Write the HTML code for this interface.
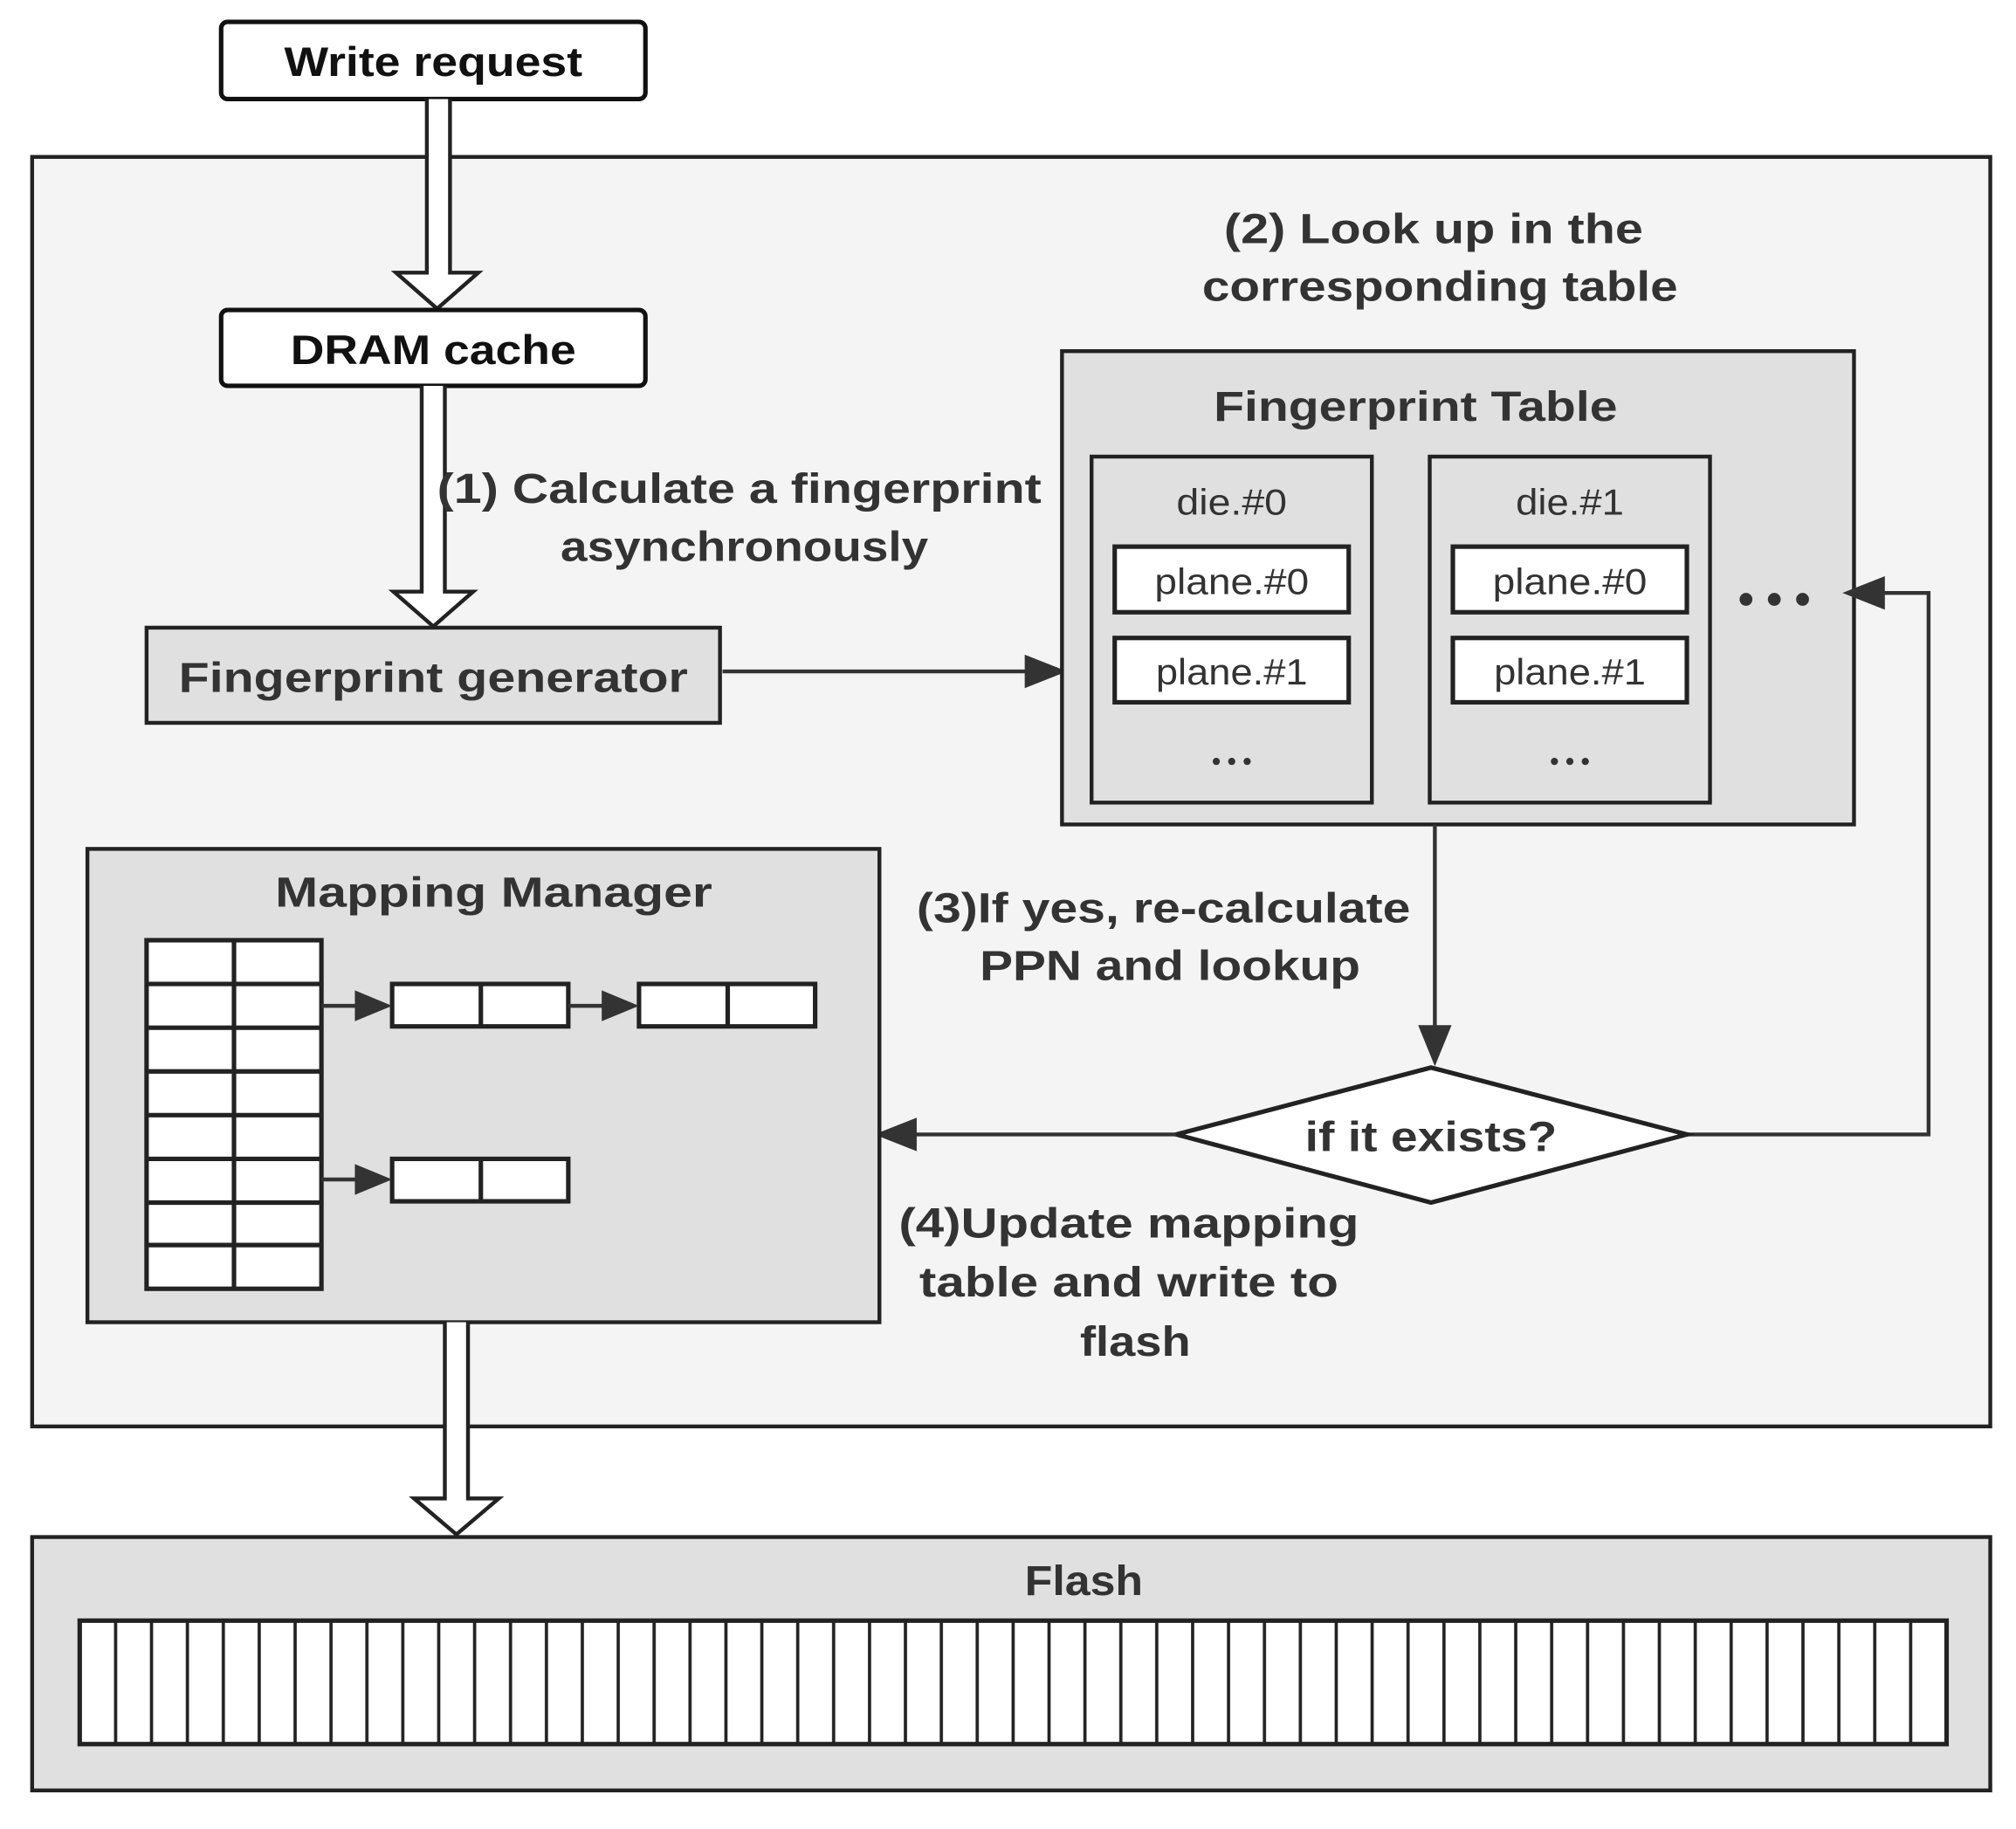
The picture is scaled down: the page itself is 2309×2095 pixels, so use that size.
<!DOCTYPE html>
<html><head><meta charset="utf-8"><style>
html,body{margin:0;padding:0;background:#fff;}
svg{display:block;}
text{font-family:"Liberation Sans",sans-serif;fill:#333;}
.b{font-weight:bold;font-size:33px;}
.n{font-size:28px;}
</style></head><body>
<svg width="2309" height="2095" viewBox="0 0 1568 1422" preserveAspectRatio="none" xmlns="http://www.w3.org/2000/svg">
<defs>
<pattern id="stripes" x="62" y="0" width="27.923" height="10" patternUnits="userSpaceOnUse">
<rect x="0" y="0" width="27.923" height="10" fill="#fff"/>
<rect x="-1.25" y="0" width="2.5" height="10" fill="#222"/>
<rect x="26.67" y="0" width="2.5" height="10" fill="#222"/>
</pattern>
</defs>
<rect x="25" y="122" width="1523" height="987" fill="#f4f4f4" stroke="#222" stroke-width="3"/>
<rect x="172" y="17" width="330" height="60" rx="5" fill="#fff" stroke="#111" stroke-width="3.5"/>
<text x="337" y="59" text-anchor="middle" font-size="32" font-weight="bold" style="fill:#111" textLength="232" lengthAdjust="spacingAndGlyphs">Write request</text>
<path d="M332,77 L332,212 L308,212 L340,240 L372,212 L350,212 L350,77" fill="#fff" stroke="#222" stroke-width="3"/>
<rect x="172" y="241" width="330" height="59" rx="5" fill="#fff" stroke="#111" stroke-width="3.5"/>
<text x="337" y="283" text-anchor="middle" font-size="32" font-weight="bold" style="fill:#111" textLength="222" lengthAdjust="spacingAndGlyphs">DRAM cache</text>
<path d="M328,300 L328,460 L306,460 L337,487 L368,460 L346,460 L346,300" fill="#fff" stroke="#222" stroke-width="3"/>
<text x="1115" y="189" text-anchor="middle" class="b" textLength="326" lengthAdjust="spacingAndGlyphs">(2) Look up in the</text>
<text x="1120" y="234" text-anchor="middle" class="b" textLength="370" lengthAdjust="spacingAndGlyphs">corresponding table</text>
<text x="575" y="391" text-anchor="middle" class="b" textLength="470" lengthAdjust="spacingAndGlyphs">(1) Calculate a fingerprint</text>
<text x="579" y="436" text-anchor="middle" class="b" textLength="286" lengthAdjust="spacingAndGlyphs">asynchronously</text>
<rect x="114" y="488" width="446" height="74" fill="#e0e0e0" stroke="#222" stroke-width="3"/>
<text x="337" y="538" text-anchor="middle" class="b" textLength="396" lengthAdjust="spacingAndGlyphs">Fingerprint generator</text>
<line x1="562" y1="522" x2="800" y2="522" stroke="#333" stroke-width="3"/>
<polygon points="830,522 797,509 797,535" fill="#333"/>
<rect x="826" y="273" width="616" height="368" fill="#e0e0e0" stroke="#222" stroke-width="3"/>
<text x="1101" y="327" text-anchor="middle" class="b" textLength="314" lengthAdjust="spacingAndGlyphs">Fingerprint Table</text>
<g>
<rect x="849" y="355" width="218" height="269" fill="#e0e0e0" stroke="#222" stroke-width="3"/>
<text x="958" y="400" text-anchor="middle" class="n" textLength="86" lengthAdjust="spacingAndGlyphs">die.#0</text>
<rect x="867" y="425" width="182" height="51" fill="#fff" stroke="#222" stroke-width="3.5"/>
<text x="958" y="462" text-anchor="middle" class="n" textLength="120" lengthAdjust="spacingAndGlyphs">plane.#0</text>
<rect x="867" y="496" width="182" height="50" fill="#fff" stroke="#222" stroke-width="3.5"/>
<text x="958" y="532" text-anchor="middle" class="n" textLength="118" lengthAdjust="spacingAndGlyphs">plane.#1</text>
<circle cx="946" cy="592" r="2.8" fill="#333"/><circle cx="958" cy="592" r="2.8" fill="#333"/><circle cx="970" cy="592" r="2.8" fill="#333"/>
</g>
<g>
<rect x="1112" y="355" width="218" height="269" fill="#e0e0e0" stroke="#222" stroke-width="3"/>
<text x="1221" y="400" text-anchor="middle" class="n" textLength="84" lengthAdjust="spacingAndGlyphs">die.#1</text>
<rect x="1130" y="425" width="182" height="51" fill="#fff" stroke="#222" stroke-width="3.5"/>
<text x="1221" y="462" text-anchor="middle" class="n" textLength="120" lengthAdjust="spacingAndGlyphs">plane.#0</text>
<rect x="1130" y="496" width="182" height="50" fill="#fff" stroke="#222" stroke-width="3.5"/>
<text x="1221" y="532" text-anchor="middle" class="n" textLength="118" lengthAdjust="spacingAndGlyphs">plane.#1</text>
<circle cx="1209" cy="592" r="2.8" fill="#333"/><circle cx="1221" cy="592" r="2.8" fill="#333"/><circle cx="1233" cy="592" r="2.8" fill="#333"/>
</g>
<circle cx="1358" cy="466" r="5" fill="#333"/><circle cx="1380" cy="466" r="5" fill="#333"/><circle cx="1402" cy="466" r="5" fill="#333"/>
<polyline points="1312,882 1500,882 1500,461 1460,461" fill="none" stroke="#333" stroke-width="3"/>
<polygon points="1433,461 1466,448 1466,474" fill="#333"/>
<line x1="1116" y1="641" x2="1116" y2="800" stroke="#333" stroke-width="3"/>
<polygon points="1116,829 1103,797 1129,797" fill="#333"/>
<polygon points="1113,830 1312,882 1113,935 915,882" fill="#fff" stroke="#222" stroke-width="3.5"/>
<text x="1113" y="895" text-anchor="middle" class="b" textLength="196" lengthAdjust="spacingAndGlyphs">if it exists?</text>
<line x1="915" y1="882" x2="710" y2="882" stroke="#333" stroke-width="3"/>
<polygon points="680,882 713,869 713,895" fill="#333"/>
<text x="905" y="717" text-anchor="middle" class="b" textLength="384" lengthAdjust="spacingAndGlyphs">(3)If yes, re-calculate</text>
<text x="910" y="762" text-anchor="middle" class="b" textLength="296" lengthAdjust="spacingAndGlyphs">PPN and lookup</text>
<text x="878" y="962" text-anchor="middle" class="b" textLength="358" lengthAdjust="spacingAndGlyphs">(4)Update mapping</text>
<text x="878" y="1008" text-anchor="middle" class="b" textLength="326" lengthAdjust="spacingAndGlyphs">table and write to</text>
<text x="883" y="1054" text-anchor="middle" class="b" textLength="86" lengthAdjust="spacingAndGlyphs">flash</text>
<rect x="68" y="660" width="616" height="368" fill="#e0e0e0" stroke="#222" stroke-width="3"/>
<text x="384" y="705" text-anchor="middle" class="b" textLength="340" lengthAdjust="spacingAndGlyphs">Mapping Manager</text>
<rect x="114" y="731" width="136" height="271" fill="#fff" stroke="#222" stroke-width="3.5"/>
<g stroke="#222" stroke-width="3.5">
<line x1="182" y1="731" x2="182" y2="1002"/>
<line x1="114" y1="765" x2="250" y2="765"/>
<line x1="114" y1="799" x2="250" y2="799"/>
<line x1="114" y1="833" x2="250" y2="833"/>
<line x1="114" y1="867" x2="250" y2="867"/>
<line x1="114" y1="901" x2="250" y2="901"/>
<line x1="114" y1="935" x2="250" y2="935"/>
<line x1="114" y1="968" x2="250" y2="968"/>
</g>
<g fill="#fff" stroke="#222" stroke-width="3.5">
<rect x="305" y="765" width="137" height="33"/><line x1="374" y1="765" x2="374" y2="798"/>
<rect x="497" y="765" width="137" height="33"/><line x1="566" y1="765" x2="566" y2="798"/>
<rect x="305" y="901" width="137" height="33"/><line x1="374" y1="901" x2="374" y2="934"/>
</g>
<g stroke="#333" stroke-width="3" fill="#333">
<line x1="250" y1="782" x2="280" y2="782"/><polygon points="305,782 276,770 276,794" stroke="none"/>
<line x1="442" y1="782" x2="472" y2="782"/><polygon points="497,782 468,770 468,794" stroke="none"/>
<line x1="250" y1="917" x2="280" y2="917"/><polygon points="305,917 276,905 276,929" stroke="none"/>
</g>
<path d="M346,1028 L346,1165 L322,1165 L355,1193 L388,1165 L364,1165 L364,1028" fill="#fff" stroke="#222" stroke-width="3"/>
<rect x="25" y="1195" width="1523" height="197" fill="#e0e0e0" stroke="#222" stroke-width="3"/>
<text x="843" y="1240" text-anchor="middle" class="b" textLength="92" lengthAdjust="spacingAndGlyphs">Flash</text>
<rect x="62" y="1260" width="1452" height="96" fill="url(#stripes)" stroke="#222" stroke-width="3.5"/>
</svg>
</body></html>
